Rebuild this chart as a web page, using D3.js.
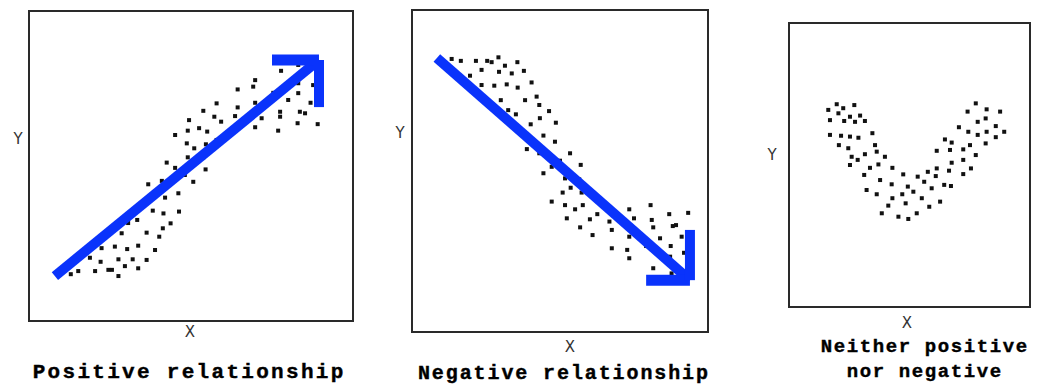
<!DOCTYPE html>
<html><head><meta charset="utf-8">
<script src="https://cdn.jsdelivr.net/npm/d3@7"></script>
<style>html,body{margin:0;padding:0;background:#fff;} svg{display:block}</style>
</head><body>
<svg id="chart" width="1038" height="384"></svg>
<script>
// ---------- DATA (arbitrary units, 0-100 on both axes for every panel) ----------
const positivePoints = [
 [12.9,15.1],[15.2,16.1],[18.8,20.4],[20.4,16.1],[22.1,19.1],[22.4,23.5],[24.5,16.5],[25.6,16.5],
 [26.5,24.0],[27.6,19.9],[27.6,14.5],[28.6,28.3],[29.6,17.7],[30.3,23.2],[30.6,31.6],[32.0,19.9],
 [33.4,32.6],[33.7,24.3],[33.7,17.0],[36.3,28.5],[36.3,19.7],[36.8,44.1],[38.2,35.6],[38.9,22.9],
 [40.2,27.2],[41.0,45.2],[41.3,29.9],[41.5,34.7],[42.0,39.8],[42.5,51.1],[43.7,31.5],[45.1,49.4],
 [46.1,41.2],[46.3,35.3],[48.1,47.1],[45.1,60.0],[48.7,57.3],[49.0,61.4],[49.0,52.8],[49.4,64.8],
 [50.7,44.9],[51.0,55.7],[52.5,62.2],[53.8,67.8],[53.8,52.8],[54.5,48.9],[54.6,57.0],[55.0,61.1],
 [57.2,65.9],[57.9,70.2],[57.9,58.4],[59.3,64.3],[62.6,61.6],[63.6,66.1],[64.4,74.7],[64.4,68.9],
 [69.2,75.6],[69.8,77.7],[69.8,70.4],[69.8,62.5],[71.8,65.4],[75.4,73.6],[76.9,61.4],[77.5,67.5],
 [77.5,65.9],[77.8,80.7],[80.0,71.3],[83.1,82.6],[83.1,76.7],[83.1,73.5],[82.9,63.8],[83.6,67.5],
 [85.2,67.0],[86.9,70.4],[87.7,76.1],[89.1,63.5]
];
const negativePoints = [
 [13.4,84.8],[16.5,84.2],[21.6,84.2],[25.4,84.2],[26.9,83.8],[29.2,85.3],[35.6,83.8],[31.4,82.7],
 [23.5,81.4],[29.4,80.8],[33.7,80.3],[37.8,81.1],[19.6,79.6],[40.4,77.5],[23.5,76.7],[27.8,76.5],
 [32.0,76.9],[35.7,75.9],[42.1,73.1],[30.0,72.0],[38.2,72.0],[43.0,70.5],[32.5,68.9],[46.3,68.6],
 [35.1,67.6],[43.2,66.4],[40.1,64.5],[48.6,65.0],[44.4,61.0],[38.8,56.8],[43.0,55.5],[48.3,59.1],
 [53.4,55.5],[57.0,51.9],[50.0,53.2],[47.2,51.3],[44.4,49.3],[51.7,47.7],[56.5,47.4],[50.9,43.3],
 [53.6,44.8],[57.3,43.3],[61.0,42.2],[47.2,40.5],[51.7,39.4],[55.1,38.1],[57.7,39.4],[62.6,36.6],
 [65.8,38.9],[52.3,35.3],[60.1,35.0],[66.7,34.3],[73.4,38.1],[75.0,35.3],[80.6,39.4],[81.0,34.8],
 [86.9,36.6],[93.3,37.0],[56.8,32.5],[61.0,30.1],[67.5,31.7],[73.4,29.6],[81.5,32.5],[88.1,32.9],
 [89.2,33.2],[83.8,29.1],[91.1,29.6],[67.5,26.0],[72.7,25.5],[73.4,22.9],[79.1,26.7],[87.4,26.7],
 [91.9,24.6],[87.2,23.4],[81.5,19.8],[87.7,18.2]
];
const neitherPoints = [
 [16.3,69.4],[19.8,71.4],[22.5,70.0],[27.1,71.1],[20.5,68.2],[17.0,65.8],[22.9,65.5],[25.3,67.0],
 [27.4,65.2],[29.5,67.4],[31.5,65.5],[17.0,60.6],[21.6,60.3],[25.3,60.0],[28.8,59.6],[34.6,61.2],
 [20.7,57.0],[24.6,55.9],[35.7,57.0],[36.4,54.7],[31.5,53.8],[26.0,52.9],[28.5,51.8],[39.8,52.9],
 [25.3,50.0],[37.1,50.2],[33.6,49.0],[42.9,49.0],[31.2,46.5],[37.8,44.7],[47.4,46.7],[53.4,45.9],
 [42.6,43.2],[49.3,42.4],[32.2,41.2],[36.4,39.7],[42.9,38.3],[47.0,39.7],[51.6,40.6],[48.4,36.5],
 [41.2,35.7],[38.5,33.0],[45.4,31.8],[49.5,31.0],[53.0,33.0],[55.1,38.3],[58.2,35.3],[62.7,37.1],
 [77.5,71.7],[74.1,68.8],[82.0,69.6],[87.6,68.8],[78.3,65.2],[81.6,66.4],[70.5,63.3],[74.4,61.7],
 [78.3,60.6],[82.0,61.7],[85.8,63.7],[89.3,61.7],[64.7,59.0],[67.5,57.9],[75.1,57.0],[81.6,57.6],
 [85.8,59.8],[61.3,55.0],[66.8,55.3],[72.3,55.5],[77.5,53.5],[67.5,50.8],[72.3,51.8],[61.3,48.8],
 [57.6,47.6],[66.4,48.0],[72.3,46.8],[75.5,48.8],[60.9,46.1],[56.1,44.1],[64.4,43.0],[67.2,42.6],
 [59.2,41.8]
];
// Trend arrows: tail, corner (tip), start of the horizontal arm (x), end of the vertical arm (y)
const positiveArrow = {tail:[8.0,14.5], tip:[89.5,84.2], armX:75.0, armY:69.0};
const negativeArrow = {tail:[8.4,85.1], tip:[93.9,16.1], armX:79.1, armY:31.7};
const axisLabels = ["X","Y"];
const titles = [["Positive relationship"],["Negative relationship"],["Neither positive","nor negative"]];

// ---------- LAYOUT ----------
const panels = [
  {box:{left:29,top:11,width:324,height:310}, points:positivePoints, arrow:positiveArrow,
   yLab:[18,139], xLab:[190,332], title:{x:188, y:378, size:21, ls:2.3, lh:30}},
  {box:{left:412,top:10,width:296,height:322}, points:negativePoints, arrow:negativeArrow,
   yLab:[400,133], xLab:[570,347], title:{x:563, y:379, size:20, ls:1.9, lh:30}},
  {box:{left:789,top:23,width:241,height:284}, points:neitherPoints, arrow:null,
   yLab:[772,155], xLab:[907,323], title:{x:924, y:352, size:19, ls:1.6, lh:25}}
];
const blue = "#0a33fb";
const svg = d3.select("#chart");

panels.forEach((p, i) => {
  const b = p.box;
  const x = d3.scaleLinear().domain([0,100]).range([b.left, b.left + b.width]);
  const y = d3.scaleLinear().domain([0,100]).range([b.top + b.height, b.top]);
  const g = svg.append("g");

  g.append("rect").attr("x", b.left).attr("y", b.top)
    .attr("width", b.width).attr("height", b.height)
    .attr("fill", "none").attr("stroke", "#2a2a2a").attr("stroke-width", 2);

  g.selectAll("rect.dot").data(p.points).enter().append("rect")
    .attr("class","dot")
    .attr("x", d => x(d[0]) - 2).attr("y", d => y(d[1]) - 2)
    .attr("width", 4).attr("height", 4).attr("fill", "#111");

  if (p.arrow) {
    const a = p.arrow;
    const line = d3.line().x(d => x(d[0])).y(d => y(d[1]));
    g.append("path").attr("d", line([a.tail, a.tip]))
      .attr("stroke", blue).attr("stroke-width", 10).attr("fill","none").attr("stroke-linecap","butt");
    g.append("path").attr("d", line([[a.armX, a.tip[1]], a.tip]))
      .attr("stroke", blue).attr("stroke-width", 11).attr("fill","none").attr("stroke-linecap","butt");
    g.append("path").attr("d", line([a.tip, [a.tip[0], a.armY]]))
      .attr("stroke", blue).attr("stroke-width", 10).attr("fill","none").attr("stroke-linecap","butt");
  }

  const labStyle = s => s.attr("font-family","DejaVu Sans, sans-serif").attr("font-size",15)
      .attr("fill","#333").attr("text-anchor","middle").attr("dominant-baseline","central");
  g.append("text").attr("x", p.xLab[0]).attr("y", p.xLab[1]).text(axisLabels[0]).call(labStyle);
  g.append("text").attr("x", p.yLab[0]).attr("y", p.yLab[1]).text(axisLabels[1]).call(labStyle);

  titles[i].forEach((t, k) => {
    g.append("text").attr("x", p.title.x + p.title.ls/2).attr("y", p.title.y + k * p.title.lh)
      .attr("font-family", "Liberation Mono, Courier New, monospace").attr("font-weight","bold")
      .attr("font-size", p.title.size).attr("letter-spacing", p.title.ls)
      .attr("stroke","#000").attr("stroke-width",0.4)
      .attr("text-anchor","middle").attr("fill","#000").text(t);
  });
});
</script>
</body></html>
